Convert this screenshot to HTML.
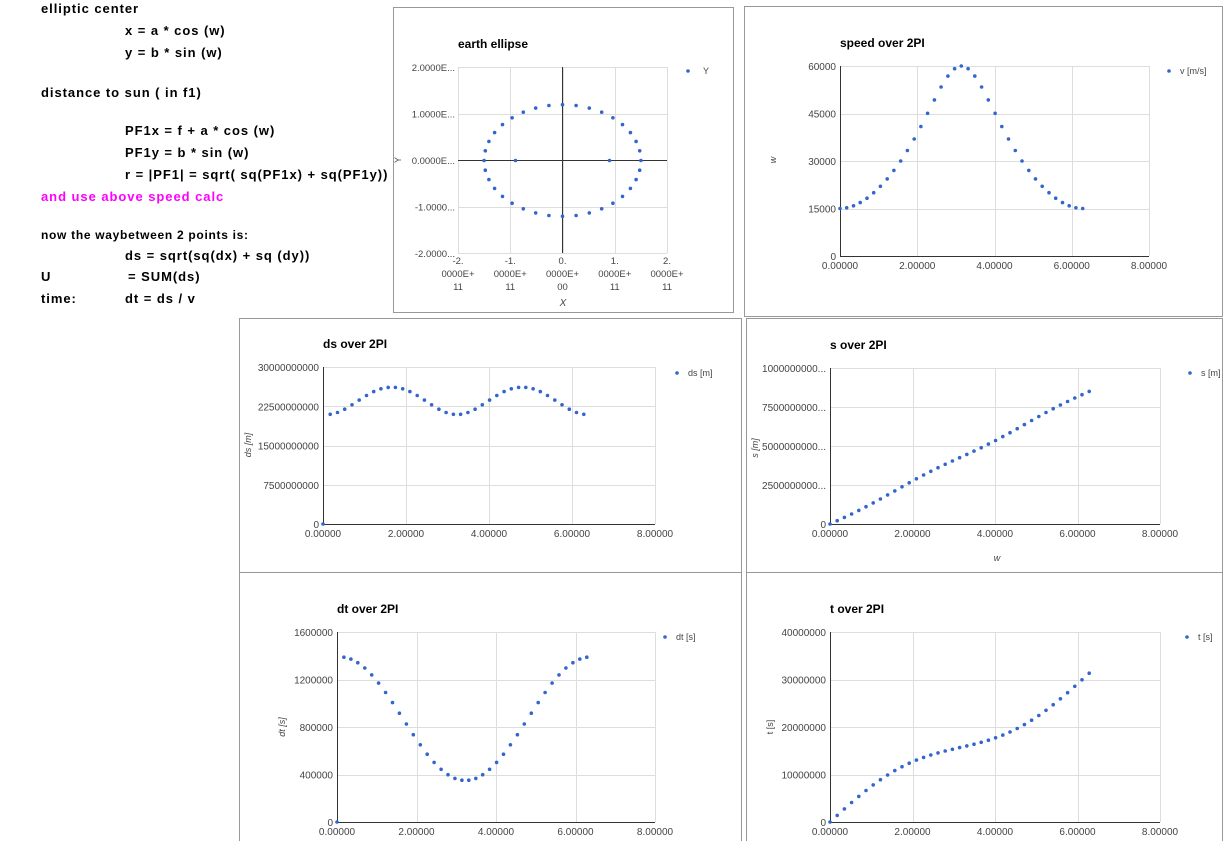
<!DOCTYPE html>
<html><head><meta charset="utf-8"><style>
html,body{margin:0;padding:0;background:#fff;width:1223px;height:841px;overflow:hidden}
.t{position:absolute;font:bold 13px "Liberation Sans",Arial,sans-serif;color:#000;white-space:nowrap;letter-spacing:0.95px}
</style></head><body>
<div class="t" style="left:41px;top:1px">elliptic center</div>
<div class="t" style="left:125px;top:23px">x = a * cos (w)</div>
<div class="t" style="left:125px;top:45px">y = b * sin (w)</div>
<div class="t" style="left:41px;top:85px">distance to sun ( in f1)</div>
<div class="t" style="left:125px;top:123px">PF1x = f + a * cos (w)</div>
<div class="t" style="left:125px;top:145px">PF1y = b * sin (w)</div>
<div class="t" style="left:125px;top:167px">r = |PF1| = sqrt( sq(PF1x) + sq(PF1y))</div>
<div class="t" style="left:41px;top:189px;color:#f0f">and use above speed calc</div>
<div class="t" style="left:41px;top:228px;font-size:12px;letter-spacing:0.7px">now the waybetween 2 points is:</div>
<div class="t" style="left:125px;top:248px">ds = sqrt(sq(dx) + sq (dy))</div>
<div class="t" style="left:41px;top:269px">U</div>
<div class="t" style="left:128px;top:269px">= SUM(ds)</div>
<div class="t" style="left:41px;top:291px">time:</div>
<div class="t" style="left:125px;top:291px">dt = ds / v</div>
<svg id="s" width="1223" height="841" style="position:absolute;left:0;top:0" xmlns="http://www.w3.org/2000/svg"></svg>
<script>
var S=document.getElementById('s'),h='';
function R(x,y,w,hh){h+='<rect x="'+x+'" y="'+y+'" width="'+w+'" height="'+hh+'" fill="none" stroke="#999" stroke-width="1"/>';}
function T(x,y,s,o){o=o||{};h+='<text x="'+x+'" y="'+y+'" font-family="Liberation Sans, Arial, sans-serif" font-size="'+(o.fs||10)+'" fill="'+(o.c||'#444')+'" text-anchor="'+(o.a||'start')+'"'+(o.b?' font-weight="bold"':'')+(o.i?' font-style="italic"':'')+(o.r?' transform="rotate(-90 '+x+' '+y+')"':'')+'>'+s+'</text>';}
function L(x1,y1,x2,y2,c){h+='<line x1="'+x1+'" y1="'+y1+'" x2="'+x2+'" y2="'+y2+'" stroke="'+c+'" stroke-width="1"/>';}
function D(x,y){h+='<circle cx="'+x.toFixed(1)+'" cy="'+y.toFixed(1)+'" r="1.8" fill="#3366cc"/>';}
function chart(c){
 var l=c.l,r=c.r,t=c.t,b=c.b;
 for(var i=0;i<=4;i++){var x=Math.round(l+(r-l)*i/4)+.5;L(x,t,x,b,'#ddd');var y=Math.round(t+(b-t)*i/4)+.5;L(l,y,r,y,'#ddd');}
 L(l+.5,t,l+.5,b,'#333');L(l,b+.5,r,b+.5,'#333');
 for(i=0;i<=4;i++){T(l+(r-l)*i/4,b+13,(2*i).toFixed(5),{a:'middle'});T(l-4,b-(b-t)*i/4+4,c.yl[i],{a:'end'});}
 T(l,t-19,c.title,{fs:12,b:1,c:'#000'});
 D(c.lx,c.ly);T(c.lx+11,c.ly+3,c.lt,{fs:9});
 for(i=0;i<c.d.length;i++){D(l+c.d[i][0]/8*(r-l),b-c.d[i][1]/c.ym*(b-t));}
}
var a=1.5e11,bb=1.2e11,f=0.9e11,N=36,w=[],v=[],ds=[0],s=[0],dt=[0],tt=[0];
for(var i=0;i<=N;i++){var ww=2*Math.PI*i/N;w.push(ww);var px=f+a*Math.cos(ww),py=bb*Math.sin(ww),rr=Math.sqrt(px*px+py*py);v.push(Math.sqrt(2/rr-1/a));}
var k=15000/v[0];v=v.map(function(x){return x*k;});
for(i=1;i<=N;i++){var dx=a*(Math.cos(w[i])-Math.cos(w[i-1])),dy=bb*(Math.sin(w[i])-Math.sin(w[i-1]));var d=Math.sqrt(dx*dx+dy*dy);ds.push(d);s.push(s[i-1]+d);var vv=(v[i]+v[i-1])/2;dt.push(d/vv);tt.push(tt[i-1]+d/vv);}
function pts(arr){var o=[];for(var j=0;j<=N;j++)o.push([w[j],arr[j]]);return o;}
R(393.5,7.5,340,305);R(744.5,6.5,478,310);R(239.5,318.5,502,254);R(746.5,318.5,476,254);R(239.5,572.5,502,270);R(746.5,572.5,476,270);
(function(){var l=458,r=667,t=67,b=253;
for(var i=0;i<=4;i++){var x=Math.round(l+(r-l)*i/4)+.5;L(x,t,x,b,'#ddd');var y=Math.round(t+(b-t)*i/4)+.5;L(l,y,r,y,'#ddd');}
L(562.5,t,562.5,b,'#333');L(l,160.5,r,160.5,'#333');
var yl=['2.0000E...','1.0000E...','0.0000E...','-1.0000...','-2.0000...'];
for(i=0;i<5;i++)T(l-3,t+(b-t)*i/4+4,yl[i],{a:'end',fs:9.5});
var xl=[['-2.','0000E+','11'],['-1.','0000E+','11'],['0.','0000E+','00'],['1.','0000E+','11'],['2.','0000E+','11']];
for(i=0;i<5;i++){var x=l+(r-l)*i/4;T(x,b+11,xl[i][0],{a:'middle',fs:9.5});T(x,b+24,xl[i][1],{a:'middle',fs:9.5});T(x,b+37,xl[i][2],{a:'middle',fs:9.5});}
T(563,306,'X',{a:'middle',i:1});T(401,160,'Y',{a:'middle',r:1,fs:9});
T(458,48,'earth ellipse',{fs:12,b:1,c:'#000'});D(688,71);T(703,74,'Y',{fs:9});
for(i=0;i<N;i++){var ww=2*Math.PI*i/N;D(562.5+a*Math.cos(ww)/2e11*104.5,160.5-bb*Math.sin(ww)/2e11*93);}
D(562.5-f/2e11*104.5,160.5);D(562.5+f/2e11*104.5,160.5);})();
chart({l:840,r:1149,t:66,b:256,yl:['0','15000','30000','45000','60000'],ym:60000,title:'speed over 2PI',lx:1169,ly:71,lt:'v [m/s]',d:pts(v)});
T(776,160,'w',{a:'middle',r:1,fs:9,i:1});
chart({l:323,r:655,t:367,b:524,yl:['0','7500000000','15000000000','22500000000','30000000000'],ym:3e10,title:'ds over 2PI',lx:677,ly:373,lt:'ds [m]',d:pts(ds)});
T(251,445,'ds [m]',{a:'middle',r:1,fs:9,i:1});
chart({l:830,r:1160,t:368,b:524,yl:['0','2500000000...','5000000000...','7500000000...','1000000000...'],ym:1e12,title:'s over 2PI',lx:1190,ly:373,lt:'s [m]',d:pts(s)});
T(758,448,'s [m]',{a:'middle',r:1,fs:9,i:1});T(997,561,'w',{a:'middle',fs:9,i:1});
chart({l:337,r:655,t:632,b:822,yl:['0','400000','800000','1200000','1600000'],ym:1.6e6,title:'dt over 2PI',lx:665,ly:637,lt:'dt [s]',d:pts(dt)});
T(285,727,'dt [s]',{a:'middle',r:1,fs:9,i:1});
chart({l:830,r:1160,t:632,b:822,yl:['0','10000000','20000000','30000000','40000000'],ym:4e7,title:'t over 2PI',lx:1187,ly:637,lt:'t [s]',d:pts(tt)});
T(773,727,'t [s]',{a:'middle',r:1,fs:9});
S.innerHTML=h;
</script>
</body></html>
